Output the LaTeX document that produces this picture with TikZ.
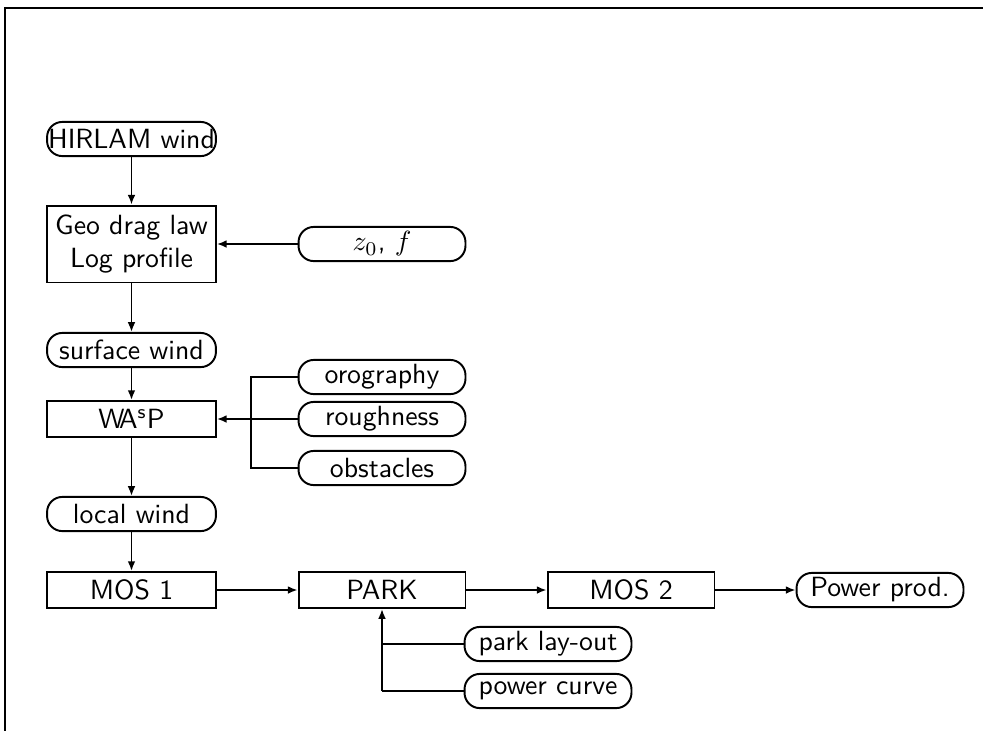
\documentclass[tikz,border=0pt]{standalone}
\usetikzlibrary{arrows.meta}
\tikzset{
  base/.style={draw, line width=0.7pt, inner sep=0pt, font=\sffamily, align=center},
  pill/.style={base, rounded corners=5.5pt, minimum height=12.3pt},
  blk/.style={base, minimum height=13pt},
  wl/.style={minimum width=60.8pt},
  wr/.style={minimum width=60.1pt},
  conn/.style={line width=0.65pt, -{Latex[length=3.5pt,width=2.8pt]}},
  plain/.style={line width=0.65pt}
}
\begin{document}
\begin{tikzpicture}[x=0.36pt, y=-0.36pt]
\useasboundingbox (0,0) rectangle (983,731);
\draw[line width=0.8pt] (983,8) -- (5,8) -- (5,731);
% left column
\node[pill, wl] (hir) at (131.5,139) {HIRLAM wind};
\node[base, wl, minimum height=27.7pt] (geo) at (131.5,244) {Geo drag law\\Log profile};
\node[pill, wr] (zf) at (382,244) {$z_0$, $f$};
\node[pill, wl] (sw) at (131.5,350) {surface wind};
\node[blk, wl] (wasp) at (131.5,419) {W\kern-2ptA\textsuperscript{s}P};
\node[pill, wr] (oro) at (382,377) {orography};
\node[pill, wr] (rou) at (382,419) {roughness};
\node[pill, wr] (obs) at (382,468) {obstacles};
\node[pill, wl] (lw) at (131.5,514) {local wind};
\node[blk, wl] (mos1) at (131.5,590) {MOS 1};
\node[blk, wr] (park) at (382,590) {PARK};
\node[blk, wr] (mos2) at (631,590) {MOS 2};
\node[pill, wr] (pp) at (880,590) {Power prod.};
\node[pill, wr] (pl) at (548,644) {park lay-out};
\node[pill, wr] (pc) at (548,691) {power curve};
\coordinate (bw) at (251,419);
\coordinate (bp) at (382,691);
% connectors
\draw[conn] (hir) -- (geo);
\draw[conn] (zf) -- (geo);
\draw[conn] (geo) -- (sw);
\draw[conn] (sw) -- (wasp);
\draw[conn] (rou) -- (wasp);
\draw[plain] (oro.west) -| (bw);
\draw[plain] (obs.west) -| (bw);
\draw[conn] (wasp) -- (lw);
\draw[conn] (lw) -- (mos1);
\draw[conn] (mos1) -- (park);
\draw[conn] (park) -- (mos2);
\draw[conn] (mos2) -- (pp);
\draw[plain] (pc.west) -- (bp);
\draw[plain] (pl.west) -| (bp);
\draw[conn] (bp) -- (park);
\end{tikzpicture}
\end{document}
